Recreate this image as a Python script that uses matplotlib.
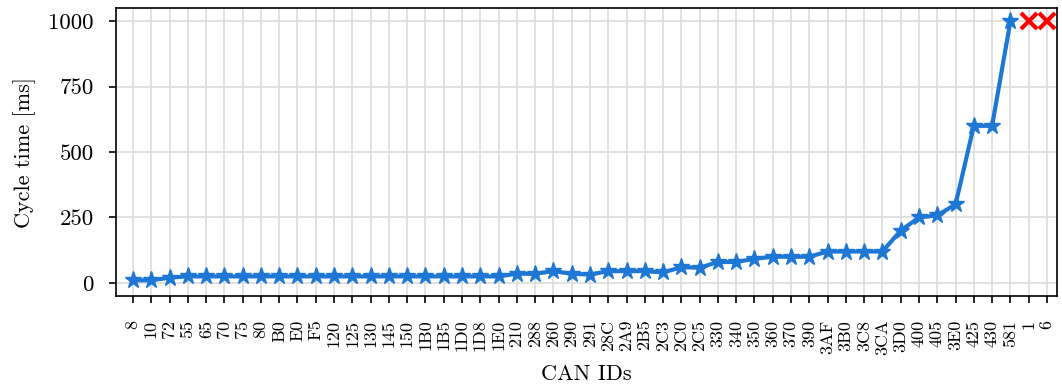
import numpy as np
import matplotlib
matplotlib.use("Agg")
import matplotlib.pyplot as plt

plt.rcParams['font.family'] = 'cmr10'
plt.rcParams['mathtext.fontset'] = 'cm'
plt.rcParams['axes.unicode_minus'] = False

# CAN IDs ordered by measured cycle time
can_ids = ['8', '10', '72', '55', '65', '70', '75', '80', 'B0', 'E0', 'F5',
           '120', '125', '130', '145', '150', '1B0', '1B5', '1D0', '1D8', '1E0',
           '210', '288', '260', '290', '291', '28C', '2A9', '2B5', '2C3', '2C0',
           '2C5', '330', '340', '350', '360', '370', '390', '3AF', '3B0', '3C8',
           '3CA', '3D0', '400', '405', '3E0', '425', '430', '581', '1', '6']

cycle_ms = [10, 10, 20, 25, 25, 25, 25, 25, 25, 25, 25,
            25, 25, 25, 25, 25, 25, 25, 25, 25, 25,
            35, 35, 45, 35, 32, 45, 45, 45, 40, 60,
            58, 80, 80, 92, 100, 100, 100, 120, 120, 120,
            120, 200, 250, 258, 300, 600, 600, 1000]

# IDs with no periodic cycle, drawn at the top of the scale
missing_ids = ['1', '6']
missing_level = 1000

x = np.arange(len(can_ids))
x_found = x[:len(cycle_ms)]
x_missing = [can_ids.index(m) for m in missing_ids]

fig = plt.figure(figsize=(10.62, 3.87), dpi=100)
ax = fig.add_axes([0.1092, 0.2351, 0.8861, 0.7442])

ax.plot(x_found, cycle_ms, color='#1e77d4', linewidth=3,
        marker='*', markersize=12.5, zorder=3)
ax.plot(x_missing, [missing_level] * len(x_missing), linestyle='none',
        marker='x', color='red', markersize=11, markeredgewidth=3, zorder=3)

ax.set_xticks(x)
ax.set_xticklabels(can_ids, rotation=90, fontsize=13)
ax.set_yticks([0, 250, 500, 750, 1000])
ax.tick_params(axis='y', labelsize=16.5, pad=11)
ax.tick_params(axis='x', pad=12)
ax.tick_params(direction='out', length=5, width=1.2)
ax.set_xlim(-0.93, 50.55)
ax.set_ylim(-50, 1050)

ax.grid(True, color='#dcdcdc', linewidth=1.2)
ax.set_axisbelow(True)
for s in ax.spines.values():
    s.set_linewidth(1.2)

ax.set_xlabel('CAN IDs', fontsize=16, labelpad=7)
ax.set_ylabel('Cycle time [ms]', fontsize=16, labelpad=9)

fig.savefig('out.png', dpi=100)
